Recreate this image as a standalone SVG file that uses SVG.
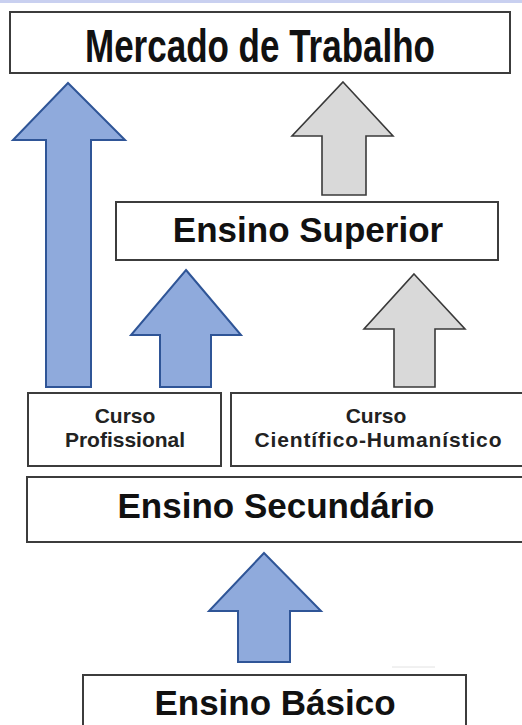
<svg xmlns="http://www.w3.org/2000/svg" width="522" height="725" viewBox="0 0 522 725">
<style>
.box{fill:#ffffff;stroke:#3c3c3c;stroke-width:2}
.big{font-family:"Liberation Sans",Arial,sans-serif;font-weight:bold;font-size:35px;fill:#111;text-anchor:middle}
.small{font-family:"Liberation Sans",Arial,sans-serif;font-weight:bold;font-size:21px;fill:#222;text-anchor:middle}
.blue{fill:#8faadc;stroke:#2f5597;stroke-width:2;stroke-linejoin:miter}
.gray{fill:#d9d9d9;stroke:#3a3a3a;stroke-width:1.6;stroke-linejoin:miter}
</style>
<rect x="0" y="0" width="522" height="3" fill="#c9d0f0"/>
<g id="connectors">
<polygon class="blue" points="68,83 125,140 91,140 91,387 46,387 46,140 13,140"/>
<polygon class="gray" points="343,82 393,136 366,136 366,195 322,195 322,136 292,136"/>
<polygon class="blue" points="186,270 241,335 211,335 211,387 160,387 160,335 131,335"/>
<polygon class="gray" points="414,274 465,329 435,329 435,387 394,387 394,329 364,329"/>
<polygon class="blue" points="264,553 321,611 290,611 290,662 238,662 238,611 209,611"/>
</g>
<g id="mercado">
<rect class="box" x="10" y="12" width="500" height="61"/>
<text class="big" transform="translate(260,62) scale(1,1.3)">Mercado de Trabalho</text>
</g>
<g id="superior">
<rect class="box" x="116" y="202" width="382" height="58"/>
<text class="big" x="308" y="242">Ensino Superior</text>
</g>
<g id="profissional">
<rect class="box" x="28" y="393" width="193" height="73"/>
<text class="small" x="125" y="423">Curso</text>
<text class="small" x="125" y="447">Profissional</text>
</g>
<g id="cientifico">
<rect class="box" x="231" y="393" width="300" height="73"/>
<text class="small" x="376" y="423">Curso</text>
<text class="small" x="378" y="447" textLength="247" lengthAdjust="spacing">Científico-Humanístico</text>
</g>
<g id="secundario">
<rect class="box" x="27" y="477" width="503" height="65"/>
<text class="big" x="276" y="518">Ensino Secundário</text>
</g>
<g id="basico">
<rect class="box" x="83" y="675" width="383" height="60"/>
<text class="big" x="275" y="715">Ensino Básico</text>
</g>
<line x1="392" y1="667" x2="435" y2="667" stroke="#e2e2e2" stroke-width="1"/>
</svg>
